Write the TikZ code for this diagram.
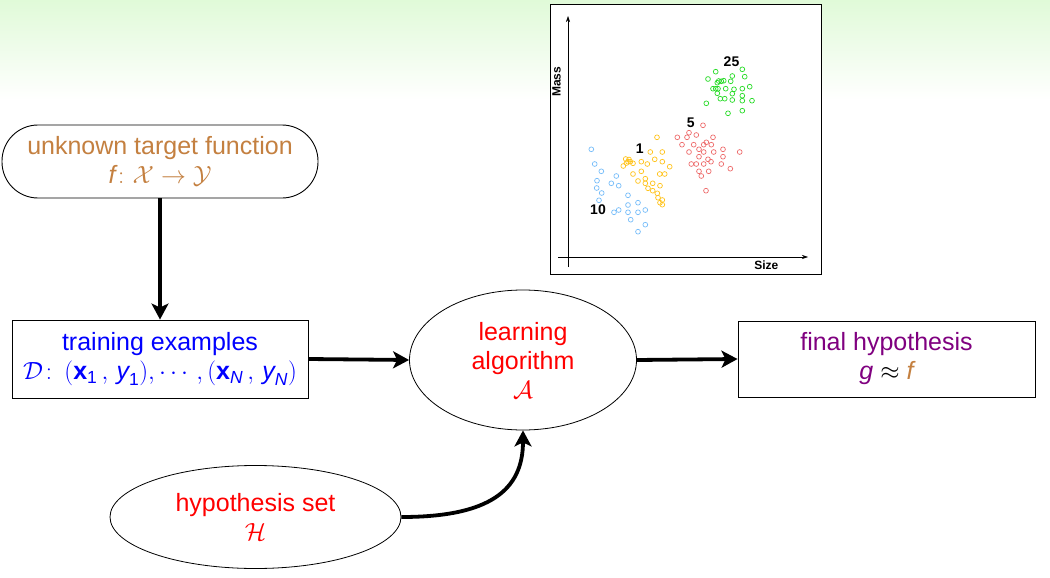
\documentclass[tikz,border=0pt]{standalone}
\usepackage{amsmath}
\usepackage{fontspec}
\setmainfont{Liberation Sans}
\usetikzlibrary{arrows.meta,shapes.geometric}
\definecolor{bgtop}{RGB}{224,250,216}
\definecolor{tgtcol}{RGB}{196,128,64}
\definecolor{hypcol}{RGB}{128,0,128}
\definecolor{ptgreen}{RGB}{40,220,40}
\definecolor{ptred}{RGB}{238,110,110}
\definecolor{ptyellow}{RGB}{255,196,30}
\definecolor{ptblue}{RGB}{120,190,250}
\tikzset{
  bigfont/.style={font=\fontsize{25}{29}\selectfont},
  boxnode/.style={draw=black, line width=0.9pt, fill=white, align=center, bigfont, inner sep=0pt},
  ellnode/.style={draw=black, line width=0.8pt, fill=white, ellipse, align=center, bigfont, inner sep=0pt},
  flow/.style={line width=3.8pt, -{Stealth[length=16pt,width=17pt,inset=4pt]}},
  plotlbl/.style={font=\fontsize{12}{12}\selectfont\bfseries, inner sep=0pt},
  pt/.style={line width=0.7pt},
}
\begin{document}
\begin{tikzpicture}[x=1pt,y=-1pt]
\useasboundingbox (0,0) rectangle (1050,578);
\fill[white] (0,0) rectangle (1050,578);
\shade[top color=bgtop, bottom color=white] (0,0) rectangle (1050,100);

% nodes
\node[boxnode, rounded corners=36pt, minimum width=316pt, minimum height=73pt, text=tgtcol] (target) at (160,161.5)
  {unknown target function\\ $\textit{f}\colon \mathcal{X}\to\mathcal{Y}$};
\node[boxnode, minimum width=296pt, minimum height=78pt, text=blue] (train) at (160,359)
  {training examples\\ $\mathcal{D}\colon\, (\textbf{x}_{\textup{1}}\,,\, \textit{y}_{\textup{1}}), \cdots\,, (\textbf{x}_{\textit{N}}\,,\, \textit{y}_{\textit{N}})$};
\node[ellnode, minimum width=227pt, minimum height=140pt, text=red] (algo) at (523,360)
  {learning\\ algorithm\\ $\mathcal{A}$};
\node[boxnode, minimum width=297pt, minimum height=76pt, text=hypcol] (final) at (886.5,359)
  {final hypothesis\\ $\textit{g} \mathrel{\textcolor{black}{\approx}} \textcolor{tgtcol}{\textit{f}}$};
\node[ellnode, minimum width=291pt, minimum height=103pt, text=red] (hset) at (255.5,517)
  {hypothesis set\\ $\mathcal{H}$};

% connectors
\draw[flow] (target.south) -- (train.north);
\draw[flow] (train.east) -- (algo.west);
\draw[flow] (algo.east) -- (final.west);
\draw[flow] (hset.east) .. controls (490,517) and (523,490) .. (algo.south);

% scatter plot panel
\draw[black, line width=0.9pt, fill=white] (550,4) rectangle (821,274);
\coordinate (yb) at (568,267);
\coordinate (yt) at (568,16);
\coordinate (xl) at (558,257);
\coordinate (xr) at (808,257);
\draw[line width=0.6pt, -{Stealth[length=6pt,width=4pt]}] (yb) -- (yt);
\draw[line width=0.6pt, -{Stealth[length=6pt,width=4pt]}] (xl) -- (xr);
\node[plotlbl, rotate=90] (mass) at (556.5,81.7) {Mass};
\node[plotlbl] (size) at (766.3,265) {Size};

\foreach \p in {(715.7,71.7),(742.3,69.3),(708,79),(732.3,76),(744.7,76.7),(718.7,81),(721.3,81.3),(723.7,80.7),(730.7,81.3),(717.3,82.7),(713,88.7),(715.7,88.7),(718,88.7),(725.7,88.7),(734,89.3),(742.3,88.7),(749.7,86.7),(717.3,93.3),(732.3,93.7),(742.3,95.7),(720.3,98.7),(724.7,98.7),(732.3,100),(742.3,100.7),(752,100.7),(706.3,103.3),(742.3,110.7),(728,113.3)}
  \draw[pt, ptgreen] \p circle (2.4);
\foreach \p in {(703,125.3),(689,132.7),(696.3,135),(677.3,137.3),(687,137.3),(713,137.3),(682,144.7),(693.7,144.7),(703.7,144.7),(706.3,142.3),(711.3,144.7),(723,149.3),(699,149.3),(689,152),(703.7,152),(713.7,152),(739.7,152),(723,156.7),(699,156.7),(708,159.3),(711,161.7),(691.3,164),(696.3,164),(703.7,164),(721.3,164),(730.3,168.7),(699,171.3),(708.7,171.3),(701.3,176),(706,190.7)}
  \draw[pt, ptred] \p circle (2.4);
\foreach \p in {(657,137.3),(650.3,152),(662.3,152),(625.7,159),(628,161.7),(630.3,161.7),(633,163.3),(641.3,161.7),(647.3,164),(654.7,159.3),(662.3,161.7),(669.7,166.7),(623.3,166),(641.3,171.3),(633,174),(659.7,174),(664.7,174),(645.3,178.7),(638,181),(645.3,183.3),(652.7,183.3),(660,185.7),(648,188.3),(652.7,190.7),(657.3,193.3),(658,197.7),(662.3,200),(660,202.7),(662.3,204.7),(626.5,163),(629,159.5)}
  \draw[pt, ptyellow] \p circle (2.4);
\foreach \p in {(591.3,149.3),(594.7,164),(601.3,171.3),(616.3,176),(597,180.7),(611.3,183.3),(618.7,185.7),(596.7,188),(601.7,193),(628,195.3),(599,200.3),(638,202.7),(628,205),(614,212.3),(618.7,210),(628,212.3),(638,212.3),(645.3,210),(630.7,219.7),(645.3,224.7),(638,231.7)}
  \draw[pt, ptblue] \p circle (2.4);

\node[plotlbl, font=\fontsize{14}{14}\selectfont\bfseries] (l25) at (731.5,61.5) {25};
\node[plotlbl, font=\fontsize{14}{14}\selectfont\bfseries] (l5) at (690.7,122.3) {5};
\node[plotlbl, font=\fontsize{14}{14}\selectfont\bfseries] (l1) at (639.7,148.3) {1};
\node[plotlbl, font=\fontsize{14}{14}\selectfont\bfseries] (l10) at (598,209.3) {10};
\end{tikzpicture}
\end{document}
